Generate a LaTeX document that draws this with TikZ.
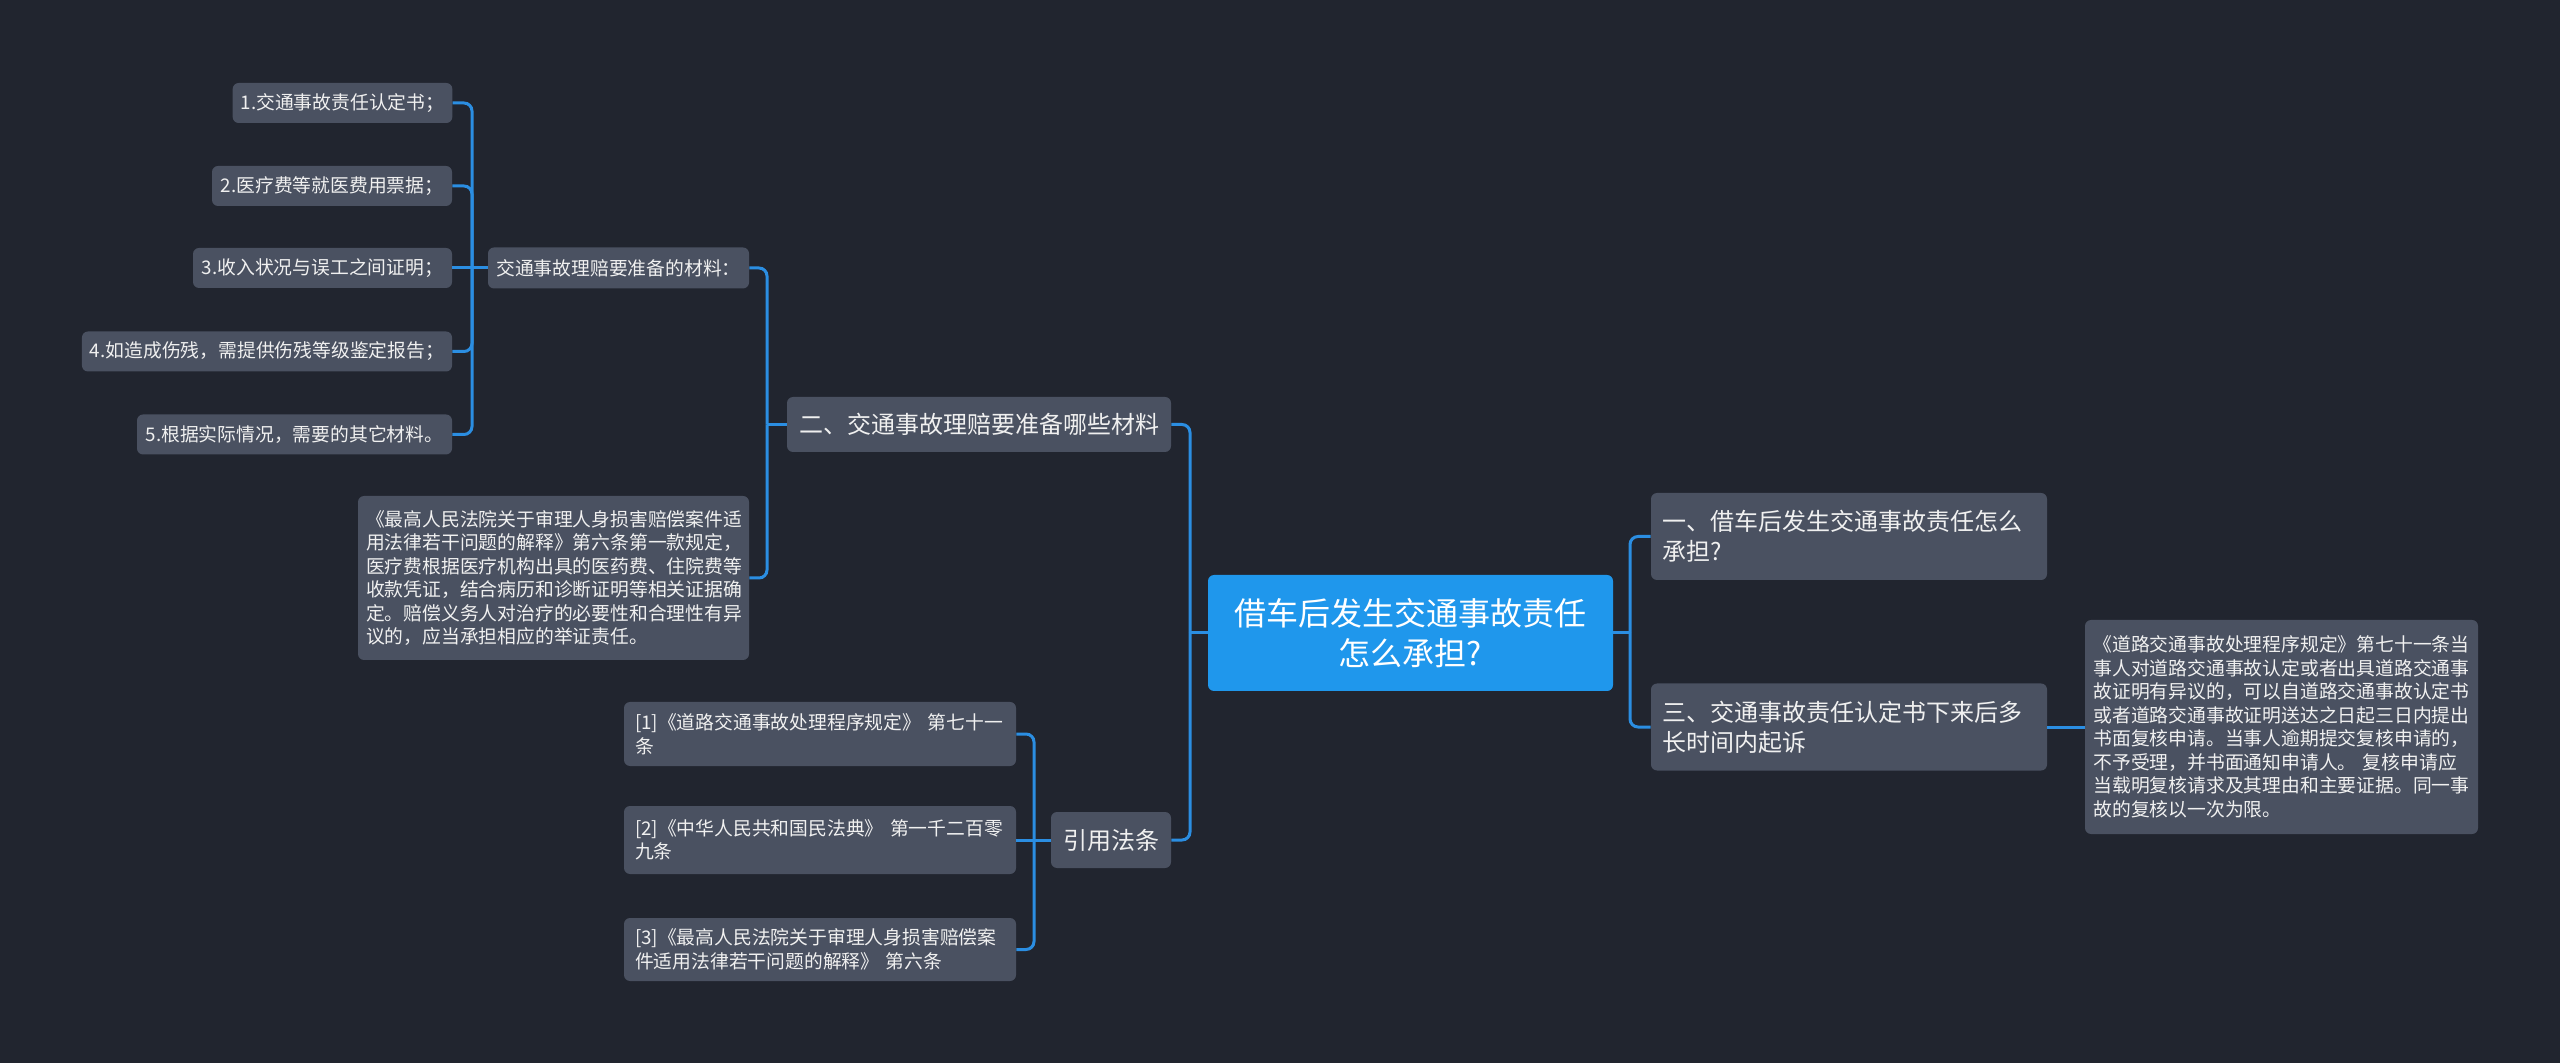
\documentclass[tikz,border=0pt]{standalone}
\usepackage{fontspec}
\setmainfont{Noto Sans CJK SC}
\definecolor{bgc}{HTML}{21252F}
\definecolor{boxc}{HTML}{4A5161}
\definecolor{rootc}{HTML}{1F97EC}
\definecolor{linec}{HTML}{2B8EE2}
\definecolor{txtc}{HTML}{F0F0F0}
\tikzset{
  gbox/.style={fill=boxc, rounded corners=3pt, text=txtc, inner xsep=4pt, inner ysep=0pt, align=left},
  small/.style={font=\fontsize{9.4}{11.75}\selectfont},
  mid/.style={font=\fontsize{12}{15}\selectfont},
  rootbox/.style={fill=rootc, rounded corners=3pt, text=white, inner sep=0pt, align=center, font=\fontsize{16}{20}\selectfont},
  conn/.style={draw=linec, line width=1.5pt, rounded corners=4pt}
}
\begin{document}
\begin{tikzpicture}[x=0.5pt,y=-0.5pt]
\useasboundingbox[fill=bgc] (0,0) rectangle (2560,1063);

% root
\node[rootbox, minimum width=202.5pt, minimum height=58pt] (root) at (1410.5,633) {借车后发生交通事故责任\\怎么承担?};

% right side
\node[gbox, mid, minimum width=198pt, minimum height=43.5pt, text width=187pt, inner xsep=5.5pt] (n1) at (1849,536.5) {一、借车后发生交通事故责任怎么\\承担?};
\node[gbox, mid, minimum width=198pt, minimum height=43.5pt, text width=187pt, inner xsep=5.5pt] (n3) at (1849,727) {三、交通事故责任认定书下来后多\\长时间内起诉};
\node[gbox, small, minimum width=196.5pt, minimum height=107pt, text width=188pt, inner xsep=4.25pt] (rnote) at (2281.5,727) {《道路交通事故处理程序规定》第七十一条当\\事人对道路交通事故认定或者出具道路交通事\\故证明有异议的，可以自道路交通事故认定书\\或者道路交通事故证明送达之日起三日内提出\\书面复核申请。当事人逾期提交复核申请的，\\不予受理，并书面通知申请人。 复核申请应\\当载明复核请求及其理由和主要证据。同一事\\故的复核以一次为限。};

% left side
\node[gbox, mid, minimum width=192pt, minimum height=27.5pt, align=center] (n2) at (979,424.5) {二、交通事故理赔要准备哪些材料};
\node[gbox, mid, minimum width=60pt, minimum height=28pt, align=center] (ny) at (1111,840) {引用法条};

\node[gbox, small, minimum width=130.5pt, minimum height=20.5pt, align=center] (mat) at (618.5,268) {交通事故理赔要准备的材料：};
\node[gbox, small, minimum width=195.5pt, minimum height=82pt, text width=187.5pt, inner xsep=4pt] (lnote) at (553.5,578) {《最高人民法院关于审理人身损害赔偿案件适\\用法律若干问题的解释》第六条第一款规定，\\医疗费根据医疗机构出具的医药费、住院费等\\收款凭证，结合病历和诊断证明等相关证据确\\定。赔偿义务人对治疗的必要性和合理性有异\\议的，应当承担相应的举证责任。};

\node[gbox, small, minimum width=109.5pt, minimum height=20pt, align=center] (l1) at (342.5,103) {1.交通事故责任认定书；};
\node[gbox, small, minimum width=120pt, minimum height=20pt, align=center] (l2) at (332,186) {2.医疗费等就医费用票据；};
\node[gbox, small, minimum width=129.5pt, minimum height=20pt, align=center] (l3) at (322.5,268) {3.收入状况与误工之间证明；};
\node[gbox, small, minimum width=185pt, minimum height=20pt, align=center] (l4) at (267,351.5) {4.如造成伤残，需提供伤残等级鉴定报告；};
\node[gbox, small, minimum width=157.5pt, minimum height=20pt, align=center] (l5) at (294.5,434.5) {5.根据实际情况，需要的其它材料。};

\node[gbox, small, minimum width=196pt, minimum height=32pt, text width=185pt, inner xsep=5.5pt] (r1) at (820,734) {[1]《道路交通事故处理程序规定》 第七十一\\条};
\node[gbox, small, minimum width=196pt, minimum height=34pt, text width=185pt, inner xsep=5.5pt] (r2) at (820,840) {[2]《中华人民共和国民法典》 第一千二百零\\九条};
\node[gbox, small, minimum width=196pt, minimum height=31.5pt, text width=185pt, inner xsep=5.5pt] (r3) at (820,949.5) {[3]《最高人民法院关于审理人身损害赔偿案\\件适用法律若干问题的解释》 第六条};

% junctions
\coordinate (jL) at (1190,633);
\coordinate (jR) at (1630,633);
\coordinate (j2) at (767,424.5);
\coordinate (jm) at (472,268);
\coordinate (jy) at (1034,840);

% connectors
\draw[conn] (root.west) -- (jL);
\draw[conn] (jL) |- (n2.east);
\draw[conn] (jL) |- (ny.east);
\draw[conn] (root.east) -- (jR);
\draw[conn] (jR) |- (n1.west);
\draw[conn] (jR) |- (n3.west);
\draw[conn] (n3.east) -- (rnote.west);

\draw[conn] (n2.west) -- (j2);
\draw[conn] (j2) |- (mat.east);
\draw[conn] (j2) |- (lnote.east);

\draw[conn] (mat.west) -- (jm);
\draw[conn] (jm) |- (l1.east);
\draw[conn] (jm) |- (l2.east);
\draw[conn] (jm) -- (l3.east);
\draw[conn] (jm) |- (l4.east);
\draw[conn] (jm) |- (l5.east);

\draw[conn] (ny.west) -- (jy);
\draw[conn] (jy) |- (r1.east);
\draw[conn] (jy) -- (r2.east);
\draw[conn] (jy) |- (r3.east);
\end{tikzpicture}
\end{document}
